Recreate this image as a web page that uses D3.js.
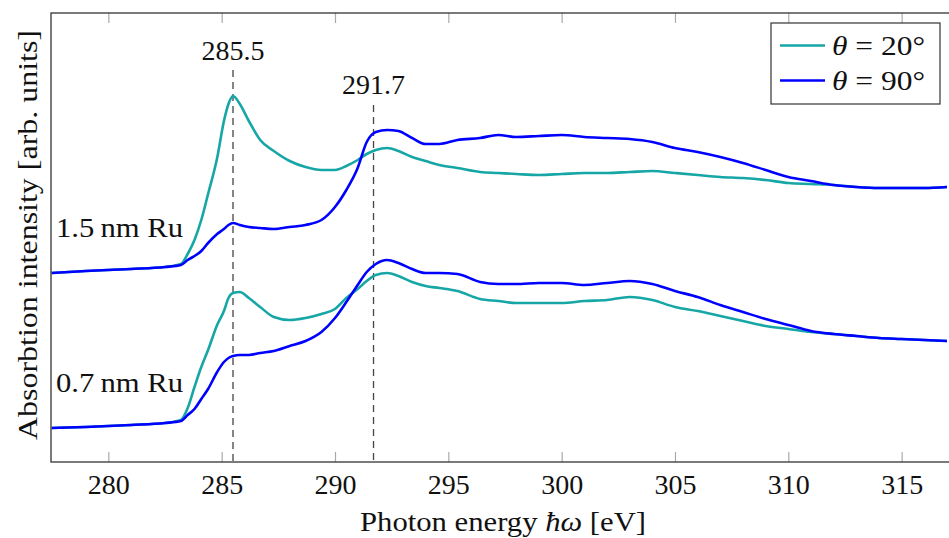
<!DOCTYPE html>
<html>
<head>
<meta charset="utf-8">
<script src="https://cdn.jsdelivr.net/npm/d3@7"></script>
<style>
  body { margin: 0; background: #fff; }
  svg text { font-family: "Liberation Serif", "DejaVu Serif", serif; fill: #111; }
</style>
</head>
<body>
<svg id="chart" width="949" height="538"></svg>
<script>
// photon energy grid (eV)
var energy = [277.5, 279, 281, 282.5, 283.2, 283.5, 283.8, 284.1, 284.4, 284.8, 285.1, 285.3, 285.5, 285.8,
    286.2, 286.7, 287.3, 288, 288.7, 289.4, 290, 290.5, 291, 291.4, 291.8, 292.3, 292.8, 293.4, 294, 294.6,
    295.4, 296.4, 297.2, 298, 299, 300, 301, 302, 303, 304, 305, 306, 307, 308, 309, 310, 311, 312, 313,
    314, 315, 316, 317];

// 1.5 nm Ru, theta = 90 / 20  (arb. units, own baseline)
var ru15_90 = [-0.01, 0.01, 0.03, 0.05, 0.07, 0.12, 0.16, 0.21, 0.29, 0.38, 0.43, 0.47, 0.49, 0.47,
    0.45, 0.44, 0.43, 0.45, 0.47, 0.52, 0.65, 0.82, 1.04, 1.30, 1.40, 1.42, 1.41, 1.34, 1.28, 1.28,
    1.32, 1.34, 1.37, 1.35, 1.36, 1.37, 1.35, 1.34, 1.33, 1.30, 1.24, 1.20, 1.15, 1.09, 1.02, 0.95, 0.91, 0.87, 0.85,
    0.84, 0.84, 0.84, 0.85];
var ru15_20 = [-0.01, 0.01, 0.03, 0.05, 0.08, 0.18, 0.32, 0.52, 0.78, 1.14, 1.51, 1.68, 1.76, 1.68,
    1.51, 1.32, 1.21, 1.11, 1.05, 1.02, 1.02, 1.06, 1.12, 1.18, 1.22, 1.24, 1.21, 1.15, 1.11, 1.07,
    1.04, 1.00, 0.99, 0.98, 0.97, 0.98, 0.99, 0.99, 1.00, 1.01, 0.99, 0.97, 0.95, 0.94, 0.92, 0.89, 0.88, 0.87, 0.85,
    0.84, 0.84, 0.84, 0.85];

// 0.7 nm Ru
var ru07_90 = [0.00, 0.01, 0.03, 0.05, 0.07, 0.13, 0.19, 0.29, 0.39, 0.56, 0.66, 0.70, 0.72, 0.73,
    0.73, 0.75, 0.77, 0.82, 0.87, 0.96, 1.10, 1.26, 1.43, 1.56, 1.64, 1.68, 1.65, 1.59, 1.55, 1.55,
    1.54, 1.46, 1.44, 1.44, 1.45, 1.45, 1.43, 1.45, 1.47, 1.44, 1.37, 1.31, 1.23, 1.16, 1.09, 1.03, 0.97, 0.94, 0.92,
    0.90, 0.89, 0.88, 0.87];
var ru07_20 = [0.00, 0.01, 0.03, 0.05, 0.08, 0.20, 0.41, 0.61, 0.78, 1.03, 1.17, 1.30, 1.35, 1.36,
    1.30, 1.21, 1.11, 1.08, 1.10, 1.14, 1.19, 1.30, 1.39, 1.47, 1.53, 1.55, 1.52, 1.46, 1.42, 1.40,
    1.37, 1.29, 1.27, 1.25, 1.25, 1.25, 1.27, 1.28, 1.31, 1.28, 1.21, 1.17, 1.12, 1.07, 1.02, 0.99, 0.96, 0.94, 0.92,
    0.90, 0.89, 0.88, 0.87];

var offset15 = 1.56;           // vertical shift of the 1.5 nm spectra
var xTicks = [280, 285, 290, 295, 300, 305, 310, 315];
var peaks = [285.5, 291.7];
var seriesNames = ["\u03b8 = 20\u00b0", "\u03b8 = 90\u00b0"];
var colors = ["#17a6a6", "#0000ff"];

(function () {
    var svg = d3.select("#chart");
    var pLeft = 51, pRight = 949, pTop = 13, pBottom = 462;

    var x = d3.scaleLinear().domain([277.47, 317.09]).range([pLeft, pRight]);
    var y = d3.scaleLinear().domain([-0.34, 4.15]).range([pBottom, pTop]);

    svg.append("defs").append("clipPath").attr("id", "clip")
        .append("rect").attr("x", pLeft).attr("y", pTop).attr("width", pRight - pLeft).attr("height", pBottom - pTop);

    // ticks, inside on top and bottom
    var tickLen = 10;
    svg.append("g")
        .attr("transform", "translate(0," + pBottom + ")")
        .call(d3.axisBottom(x).tickValues(xTicks).tickSizeInner(-tickLen).tickSizeOuter(0).tickPadding(13).tickFormat(d3.format("d")))
        .call(function (g) {
            g.select(".domain").remove();
            g.selectAll(".tick line").attr("stroke", "#aaa").attr("stroke-width", 1.2);
            g.selectAll(".tick text").attr("font-size", 27).attr("font-family", "Liberation Serif").attr("fill", "#111")
                .attr("textLength", 42).attr("lengthAdjust", "spacingAndGlyphs");
        });
    svg.append("g")
        .attr("transform", "translate(0," + pTop + ")")
        .call(d3.axisTop(x).tickValues(xTicks).tickSizeInner(-tickLen).tickSizeOuter(0).tickFormat(""))
        .call(function (g) {
            g.select(".domain").remove();
            g.selectAll(".tick line").attr("stroke", "#aaa").attr("stroke-width", 1.2);
        });

    // reference lines
    svg.selectAll("line.peak").data(peaks).enter().append("line")
        .attr("class", "peak")
        .attr("x1", function (d) { return x(d); }).attr("x2", function (d) { return x(d); })
        .attr("y1", function (d, i) { return i == 0 ? 70 : 105; })
        .attr("y2", pBottom)
        .attr("stroke", "#444").attr("stroke-width", 1.3).attr("stroke-dasharray", "7,5");
    svg.selectAll("text.peak").data(peaks).enter().append("text")
        .attr("class", "peak")
        .attr("x", function (d) { return x(d); })
        .attr("y", function (d, i) { return i == 0 ? 60 : 94; })
        .attr("text-anchor", "middle").attr("font-size", 27)
        .attr("textLength", 63).attr("lengthAdjust", "spacingAndGlyphs")
        .text(function (d) { return d3.format(".1f")(d); });

    // spectra
    var line = d3.line()
        .x(function (d) { return x(d[0]); })
        .y(function (d) { return y(d[1]); })
        .curve(d3.curveMonotoneX);

    function drawSpectrum(vals, off, color) {
        var pts = energy.map(function (e, i) { return [e, vals[i] + off]; });
        svg.append("path").datum(pts)
            .attr("clip-path", "url(#clip)")
            .attr("fill", "none").attr("stroke", color).attr("stroke-width", 2.6)
            .attr("stroke-linejoin", "round")
            .attr("d", line);
    }
    drawSpectrum(ru07_20, 0, colors[0]);
    drawSpectrum(ru07_90, 0, colors[1]);
    drawSpectrum(ru15_20, offset15, colors[0]);
    drawSpectrum(ru15_90, offset15, colors[1]);

    // frame
    svg.append("rect").attr("x", pLeft).attr("y", pTop).attr("width", pRight - pLeft + 2).attr("height", pBottom - pTop)
        .attr("fill", "none").attr("stroke", "#333").attr("stroke-width", 1.3);

    // sample labels
    svg.append("text").attr("x", 56).attr("y", 237).attr("font-size", 27)
        .attr("textLength", 127).attr("lengthAdjust", "spacingAndGlyphs").text("1.5\u2009nm Ru");
    svg.append("text").attr("x", 56).attr("y", 392).attr("font-size", 27)
        .attr("textLength", 127).attr("lengthAdjust", "spacingAndGlyphs").text("0.7\u2009nm Ru");

    // axis titles
    var xl = svg.append("text").attr("x", 503).attr("y", 531)
        .attr("text-anchor", "middle").attr("font-size", 27)
        .attr("textLength", 286).attr("lengthAdjust", "spacingAndGlyphs");
    xl.append("tspan").text("Photon energy ");
    xl.append("tspan").attr("font-style", "italic").text("\u0127\u03c9");
    xl.append("tspan").text(" [eV]");

    svg.append("text")
        .attr("transform", "translate(37,235) rotate(-90)")
        .attr("text-anchor", "middle").attr("font-size", 27)
        .attr("textLength", 410).attr("lengthAdjust", "spacingAndGlyphs")
        .text("Absorbtion intensity [arb. units]");

    // legend
    var lg = svg.append("g").attr("transform", "translate(771,23)");
    lg.append("rect").attr("width", 169).attr("height", 81)
        .attr("fill", "#fff").attr("stroke", "#333").attr("stroke-width", 1.2);
    seriesNames.forEach(function (name, i) {
        var yy = 22.5 + i * 35;
        lg.append("line").attr("x1", 9).attr("x2", 54).attr("y1", yy).attr("y2", yy)
            .attr("stroke", colors[i]).attr("stroke-width", 2.6);
        var t = lg.append("text").attr("x", 61).attr("y", yy + 9).attr("font-size", 27)
            .attr("textLength", 93).attr("lengthAdjust", "spacingAndGlyphs");
        t.append("tspan").attr("font-style", "italic").text("\u03b8");
        t.append("tspan").text(name.slice(1));
    });
})();
</script>
</body>
</html>
